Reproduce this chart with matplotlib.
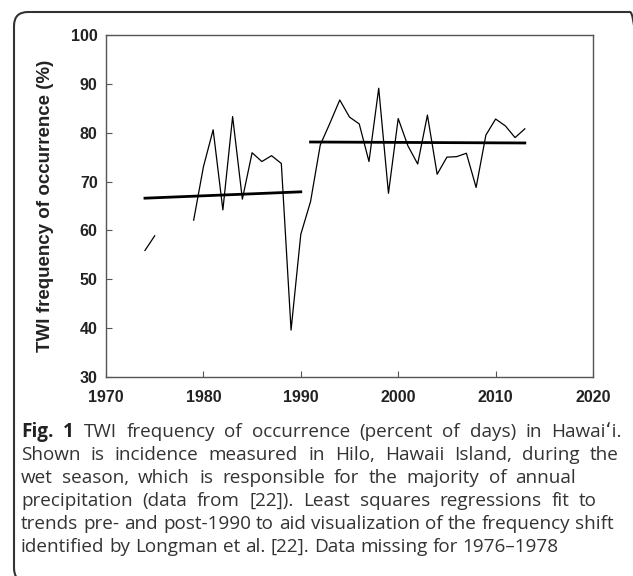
import numpy as np
import matplotlib
matplotlib.use("Agg")
import matplotlib.pyplot as plt
from matplotlib.patches import FancyBboxPatch

# TWI frequency of occurrence, Hilo wet season
years_a = [1974, 1975]
vals_a = [55.9, 58.9]
years_b = list(range(1979, 2014))
vals_b = [62.1, 73.0, 80.6, 64.2, 83.3, 66.4, 75.9, 74.1, 75.3, 73.7,
          39.6, 59.2, 65.9, 77.5, 82.0, 86.7, 83.2, 81.8, 74.1, 89.1,
          67.6, 82.9, 77.3, 73.6, 83.6, 71.5, 75.0, 75.1, 75.8, 68.8,
          79.5, 82.8, 81.4, 79.0, 80.8]

# least squares fits, pre and post 1990 (end points)
fit_pre_x = [1974, 1990]
fit_pre_y = [66.6, 67.9]
fit_post_x = [1991, 2013]
fit_post_y = [78.1, 77.9]

xticks = [1970, 1980, 1990, 2000, 2010, 2020]
yticks = [30, 40, 50, 60, 70, 80, 90, 100]

caption_lines = [
    "Fig. 1 TWI frequency of occurrence (percent of days) in Hawaiʻi.",
    "Shown is incidence measured in Hilo, Hawaii Island, during the",
    "wet season, which is responsible for the majority of annual",
    "precipitation (data from [22]). Least squares regressions fit to",
    "trends pre- and post-1990 to aid visualization of the frequency shift",
    "identified by Longman et al. [22]. Data missing for 1976–1978",
]
# right edge (px) each line is spread to, None = left aligned only
line_right = [622, 619, 576, 597, 614, None]

W, H = 633, 576
fig = plt.figure(figsize=(W / 100, H / 100), dpi=100)
ax = fig.add_axes([106 / W, 1 - 377 / H, (593 - 106) / W, (377 - 35) / H])

ax.plot(years_a, vals_a, color="black", lw=0.9)
ax.plot(years_b, vals_b, color="black", lw=0.9)
ax.plot(fit_pre_x, fit_pre_y, color="black", lw=2.0)
ax.plot(fit_post_x, fit_post_y, color="black", lw=2.0)

ax.set_xlim(1970, 2020)
ax.set_ylim(30, 100)
ax.set_xticks(xticks)
ax.set_yticks(yticks)
for s in ax.spines.values():
    s.set_color("#555555")
    s.set_linewidth(1.0)
ax.tick_params(direction="in", length=4, width=0.8, color="#555555")
ax.tick_params(axis="x", pad=9)
ax.tick_params(axis="y", pad=6)
for lab in ax.get_xticklabels() + ax.get_yticklabels():
    lab.set_family("Liberation Sans")
    lab.set_fontweight("bold")
    lab.set_fontsize(11.5)
    lab.set_color("#222222")
ax.set_ylabel("TWI frequency of occurrence (%)", family="Liberation Sans",
              fontweight="bold", fontsize=13.5, color="#222222", labelpad=12)

# rounded frame around figure and caption
frame = FancyBboxPatch((14, -6), 630, 576 - 12 + 6,
                       boxstyle="round,pad=0,rounding_size=14",
                       transform=None, fill=False, ec="#333333", lw=1.5)
fig.patches.append(frame)

# caption, justified word by word
fam = ["Open Sans", "DejaVu Sans"]
fs = 13.6
x_left = 21
y_first = 432
step = 23
renderer = fig.canvas.get_renderer()
space = fig.text(0, 0, "a a", family=fam, fontsize=fs)
one = fig.text(0, 0, "aa", family=fam, fontsize=fs)
space_w = (space.get_window_extent(renderer).width
           - one.get_window_extent(renderer).width)
space.remove()
one.remove()

for i, line in enumerate(caption_lines):
    y = 1 - (y_first + i * step) / H
    words = line.split(" ")
    texts = []
    for j, w in enumerate(words):
        bold = i == 0 and j < 2
        t = fig.text(0, y, w, family=fam, fontsize=fs, va="center",
                     fontweight="bold" if bold else "normal",
                     color="#222222" if bold else "#333333")
        texts.append(t)
    widths = [t.get_window_extent(renderer).width for t in texts]
    if line_right[i] is None:
        gap = space_w
    else:
        gap = (line_right[i] - x_left - sum(widths)) / (len(words) - 1)
    x = x_left
    for t, w in zip(texts, widths):
        t.set_x(x / W)
        x += w + gap

fig.savefig("out.png", dpi=100)
